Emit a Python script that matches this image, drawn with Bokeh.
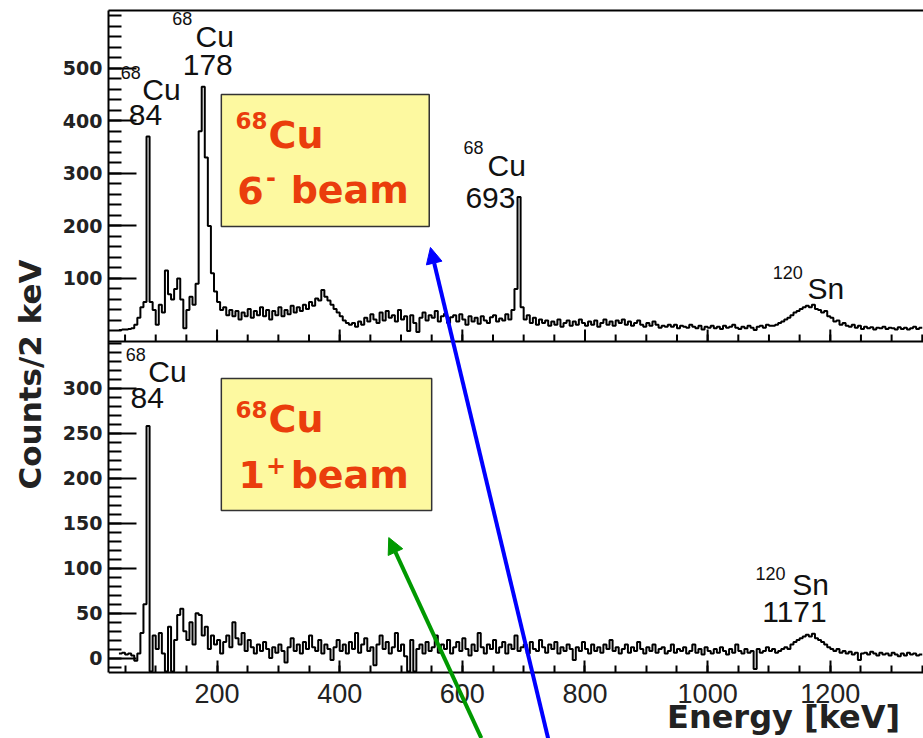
from bokeh.plotting import figure
from bokeh.models import (Range1d, LinearAxis, FixedTicker, Span, Label,
                          BoxAnnotation, Arrow, NormalHead)
from bokeh.embed import file_html
from bokeh.resources import INLINE

# ---------------- data ----------------
bin_start = 40      # keV, lower edge of first bin
bin_width = 5       # keV

# upper panel: 68Cu 6- beam (counts per bin)
top_counts = [
    2, 3, 3, 4, 5, 12, 25, 45, 55, 370, 55, 40, 12, 50, 35, 115, 70, 60, 80, 100,      # 40-135
    60, 5, 40, 65, 50, 90, 380, 465, 330, 200, 110, 75, 55, 40, 45, 30, 40, 28, 38, 22,  # 140-235
    35, 28, 42, 25, 38, 30, 45, 28, 40, 22, 38, 30, 45, 28, 40, 32, 48, 35, 45, 38,     # 240-335
    50, 42, 55, 48, 62, 58, 78, 65, 58, 50, 42, 35, 28, 20, 15, 12, 15, 8, 18, 12,      # 340-435
    25, 18, 32, 22, 15, 35, 20, 38, 25, 30, 18, 40, 22, 28, 0, 30, 15, -2, 25, 35,      # 440-535
    20, 30, 25, 38, 18, 28, 33, 15, 26, 30, 18, 32, 22, 12, 28, 18, 25, 14, 28, 20,     # 540-635
    15, 26, 30, 18, 24, 20, 32, 22, 40, 80, 255, 45, 22, 30, 15, 25, 12, 22, 15, 20,    # 640-735
    10, 18, 12, 22, 8, 15, 20, 10, 18, 12, 22, 15, 10, 18, 12, 20, 8, 15, 22, 12,       # 740-835
    18, 10, 20, 15, 22, 12, 18, 10, 15, 20, 12, 8, 15, 10, 18, 12, 6, 10, 8, 12,        # 840-935
    8, 12, 5, 10, 8, 6, 12, 8, 5, 10, 3, 8, 6, 10, 5, 8, 4, 10, 6, 8,                   # 940-1035
    12, 6, 4, 8, 5, 10, 6, 2, 8, 10, 6, 12, 10, 10, 12, 15, 18, 22, 25, 30,             # 1040-1135
    35, 38, 42, 45, 48, 45, 50, 42, 40, 35, 38, 28, 25, 18, 20, 12, 15, 10, 8, 12,      # 1140-1235
    6, 10, 4, 8, 5, 7, 3, 6, 5, 8, 4, 6, 5, 3, 7, 4, 6, 3, 5, 8, 4, 6,                  # 1240-1345
]

# lower panel: 68Cu 1+ beam
bottom_counts = [
    5, 6, 4, 5, 3, -3, 5, 28, 60, 258, -15, 25, 10, 28, 5, -15, 35, -15, 20, 48,        # 40-135
    55, 30, 20, 40, 15, 50, 48, 25, 35, 10, 25, 15, 20, 5, 18, 25, 12, 40, 22, 15,      # 140-235
    28, 8, 20, 12, 5, 15, 8, 18, 10, 0, 12, 6, 15, 8, -5, 12, 22, 8, 15, 5,             # 240-335
    18, 10, 25, 12, 8, 20, 5, 15, 10, -2, 12, 20, 8, 15, 5, 18, 10, 28, 6, 15,          # 340-435
    22, 8, 12, -8, 15, 25, 10, 18, 5, 12, 28, 8, 15, 2, -15, 20, -15, 10, 15, 5,        # 440-535
    18, 8, 12, 25, 6, 15, 10, 20, 5, 12, 18, 8, 22, 10, 3, 15, 8, 28, 12, 5,            # 540-635
    15, 10, 20, 6, 12, 18, 5, 15, 10, 25, 8, 12, 15, 5, 18, 10, 8, 20, 12, 6,           # 640-735
    15, 10, 18, 5, 12, 8, 15, 10, -2, 12, 8, 18, 10, 5, 15, 8, 12, 6, 15, 10,           # 740-835
    20, 8, 12, 5, 10, 15, 6, 12, 8, 18, 10, 5, 12, 8, 15, 6, 10, 12, 5, 8,              # 840-935
    15, 6, 10, 8, 12, 5, 8, 15, 6, 10, 4, 12, 8, 5, 10, 6, 12, 8, 4, 10,                # 940-1035
    6, 15, 8, 5, 10, 6, 8, -12, 10, 6, 8, 12, 8, 10, 6, 8, 10, 12, 10, 15,              # 1040-1135
    18, 20, 22, 24, 26, 24, 27, 22, 20, 18, 15, 12, 10, 8, 10, 6, 8, 5, 7, 4,           # 1140-1235
    6, -2, 5, 6, 4, 7, 5, 3, 6, 4, 5, 3, 6, 4, 2, 5, 3, 6, 4, 5, 3, 4,                  # 1240-1345
]

energy_range = (23, 1352)
top_range = (-20, 610)
bottom_range = (-16, 352)

x_major = [200, 400, 600, 800, 1000, 1200]
x_minor = list(range(50, 1351, 50))
top_major = [100, 200, 300, 400, 500]
top_minor = list(range(0, 601, 20))
bottom_major = [0, 50, 100, 150, 200, 250, 300]
bottom_minor = list(range(-10, 351, 10))

# peak annotations: (panel, energy, counts at text baseline, text, font size)
peak_texts = [
    ("top", 43, 481, "68", 18), ("top", 78, 439, "Cu", 30), ("top", 56, 391, "84", 30),
    ("top", 127, 582, "68", 18), ("top", 165, 540, "Cu", 30), ("top", 144, 487, "178", 30),
    ("top", 602, 338, "68", 18), ("top", 641, 296, "Cu", 30), ("top", 605, 233, "693", 30),
    ("top", 1106, 100, "120", 18), ("top", 1163, 62, "Sn", 30),
    ("bottom", 51, 331, "68", 18), ("bottom", 88, 307, "Cu", 30), ("bottom", 59, 278, "84", 30),
    ("bottom", 1078, 87, "120", 18), ("bottom", 1138, 70, "Sn", 30), ("bottom", 1089, 40, "1171", 30),
]
# beam boxes: (panel, left, right, top, bottom)
beam_boxes = [("top", 207, 546, 450, 199), ("bottom", 207, 550, 311, 164)]
beam_texts = [
    ("top", 230, 386, "68", 23), ("top", 284, 348, "Cu", 38),
    ("top", 233, 243, "6", 38), ("top", 280, 277, "-", 24), ("top", 320, 243, "beam", 38),
    ("bottom", 230, 268, "68", 23), ("bottom", 284, 251, "Cu", 38),
    ("bottom", 235, 189, "1", 38), ("bottom", 280, 206, "+", 24), ("bottom", 320, 189, "beam", 38),
]
# arrows: (panel, x_start, y_start, x_end, y_end, colour)
arrows = [("top", 740, -776, 548, 159, "#0000FF"), ("bottom", 631, -89, 480, 134, "#009900")]
# x-axis title (energy at right end, lower-panel counts at baseline)
x_title = (1314, -78, "Energy [keV]")

# ---------------- figure ----------------
b0, b1 = bottom_range
t0, t1 = top_range
span_b = b1 - b0
span_t = t1 - t0
PANEL_PX = 331          # height of each panel in pixels
BELOW_PX = 66           # room below the lower panel for tick labels and title
ext_b = BELOW_PX * span_b / PANEL_PX
ext_t = BELOW_PX * span_t / PANEL_PX
BASE_SHIFT = 0.346      # raise labels so the given y is their baseline

def top_to_combined(v):
    return b1 + (v - t0) * span_b / span_t

p = figure(width=923, height=738, output_backend="svg", toolbar_location=None,
           x_range=Range1d(*energy_range), y_range=Range1d(b0 - ext_b, b1 + span_b),
           x_axis_type=None, y_axis_type=None,
           min_border_left=108, min_border_right=0, min_border_top=10, min_border_bottom=0)
p.extra_y_ranges = {"top": Range1d(t0 - span_t - ext_t, t1)}
p.outline_line_color = None
p.background_fill_color = "white"
p.border_fill_color = "white"

rn = {"top": "top", "bottom": "default"}

# spectra
edges = [bin_start + bin_width * i for i in range(len(top_counts) + 1)]
p.step(edges, top_counts + [top_counts[-1]], mode="after", y_range_name="top",
       line_color="black", line_width=2)
edges_b = [bin_start + bin_width * i for i in range(len(bottom_counts) + 1)]
p.step(edges_b, bottom_counts + [bottom_counts[-1]], mode="after",
       line_color="black", line_width=2)

# top frame line
topaxis = LinearAxis(ticker=FixedTicker(ticks=[]), axis_line_width=2, axis_line_color="black",
                     major_tick_in=0, major_tick_out=0, minor_tick_in=0, minor_tick_out=0,
                     major_label_text_font_size="0px", major_label_standoff=0)
p.add_layout(topaxis, "above")

# energy axis, drawn at the bottom of the lower panel
xaxis = LinearAxis(ticker=FixedTicker(ticks=x_major, minor_ticks=x_minor),
                   fixed_location=b0,
                   axis_line_width=2, axis_line_color="black",
                   major_tick_in=0, major_tick_out=12, minor_tick_in=0, minor_tick_out=7,
                   major_tick_line_width=2, minor_tick_line_width=2,
                   major_label_text_font="Liberation Sans", major_label_text_font_size="27px",
                   major_label_text_color="#222222", major_label_standoff=-42)
p.add_layout(xaxis, "above")

y_ticks = bottom_major + [top_to_combined(v) for v in top_major]
y_minor = bottom_minor + [top_to_combined(v) for v in top_minor]
overrides = {t: str(t) for t in bottom_major}
overrides.update({top_to_combined(v): str(v) for v in top_major})
yaxis = LinearAxis(ticker=FixedTicker(ticks=y_ticks, minor_ticks=y_minor),
                   major_label_overrides=overrides, bounds=(b0, b1 + span_b),
                   axis_line_width=2, axis_line_color="black",
                   major_tick_in=28, major_tick_out=0, minor_tick_in=13, minor_tick_out=0,
                   major_tick_line_width=2, minor_tick_line_width=2,
                   major_label_text_font="DejaVu Sans", major_label_text_font_style="bold",
                   major_label_text_font_size="19px", major_label_text_color="#222222",
                   major_label_standoff=6,
                   axis_label="Counts/2 keV", axis_label_text_font="DejaVu Sans",
                   axis_label_text_font_style="bold", axis_label_text_font_size="31px",
                   axis_label_text_color="#222222", axis_label_standoff=12)
p.add_layout(yaxis, "left")

# divider between panels, with the upper panel's x ticks
p.add_layout(Span(location=b1, dimension="width", line_color="black", line_width=2))
tick_len_major = 12 * span_b / PANEL_PX
tick_len_minor = 7 * span_b / PANEL_PX
p.segment(x0=x_minor, y0=[b1] * len(x_minor), x1=x_minor,
          y1=[b1 + tick_len_minor] * len(x_minor), line_color="black", line_width=2)
p.segment(x0=x_major, y0=[b1] * len(x_major), x1=x_major,
          y1=[b1 + tick_len_major] * len(x_major), line_color="black", line_width=2)

# peak labels
for panel, x, y, txt, size in peak_texts:
    p.add_layout(Label(x=x, y=y, text=txt, y_range_name=rn[panel], y_offset=BASE_SHIFT * size,
                       text_font="Liberation Sans", text_font_size=f"{size}px",
                       text_color="#111111", text_align="left", text_baseline="alphabetic"))

# beam boxes
for panel, l, r, t, b in beam_boxes:
    p.add_layout(BoxAnnotation(left=l, right=r, top=t, bottom=b, y_range_name=rn[panel],
                               fill_color="#FDF9A0", fill_alpha=1.0,
                               line_color="#333333", line_width=1.5, line_alpha=1.0))
for panel, x, y, txt, size in beam_texts:
    p.add_layout(Label(x=x, y=y, text=txt, y_range_name=rn[panel], y_offset=BASE_SHIFT * size,
                       text_font="DejaVu Sans", text_font_style="bold",
                       text_font_size=f"{size}px", text_color="#EA3D0C",
                       text_align="left", text_baseline="alphabetic"))

# x axis title
p.add_layout(Label(x=x_title[0], y=x_title[1], text=x_title[2], y_offset=BASE_SHIFT * 32,
                   text_font="DejaVu Sans", text_font_style="bold", text_font_size="32px",
                   text_color="#222222", text_align="right", text_baseline="alphabetic"))

# arrows
for panel, xs, ys, xe, ye, col in arrows:
    p.add_layout(Arrow(x_start=xs, y_start=ys, x_end=xe, y_end=ye, y_range_name=rn[panel],
                       line_color=col, line_width=4,
                       end=NormalHead(size=16, fill_color=col, line_color=col, line_width=1)))

open("out.html", "w").write(file_html(p, INLINE))
